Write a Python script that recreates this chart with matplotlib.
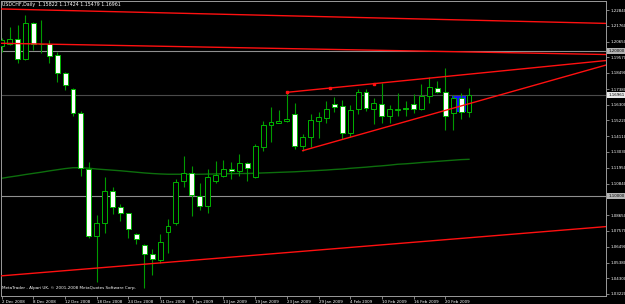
import numpy as np
import matplotlib
matplotlib.use("Agg")
import matplotlib.pyplot as plt
import matplotlib.transforms as mtransforms

# USDCHF daily candles, 2 Dec 2008 .. 25 Feb 2009
opens = [1.2035, 1.2049, 1.2082, 1.1943, 1.2196, 1.2049, 1.2049, 1.1975, 1.1847, 1.1736,
         1.1570, 1.1185, 1.0722, 1.0810, 1.1035, 1.0921, 1.0879, 1.0738, 1.0660, 1.0598,
         1.0557, 1.0748, 1.0810, 1.1100, 1.1156, 1.1001, 1.0930, 1.1104, 1.1137, 1.1187,
         1.1172, 1.1225, 1.1132, 1.1339, 1.1487, 1.1505, 1.1517, 1.1565, 1.1344, 1.1409,
         1.1519, 1.1540, 1.1634, 1.1621, 1.1436, 1.1598, 1.1715, 1.1598, 1.1637, 1.1554,
         1.1595, 1.1605, 1.1632, 1.1598, 1.1690, 1.1747, 1.1717, 1.1570, 1.1674, 1.15822]
highs = [1.2091, 1.2169, 1.2180, 1.2249, 1.2203, 1.2215, 1.2077, 1.1996, 1.1858, 1.1743,
         1.1588, 1.1236, 1.0867, 1.1128, 1.1063, 1.0941, 1.0883, 1.0741, 1.0667, 1.0630,
         1.0736, 1.0838, 1.1114, 1.1275, 1.1206, 1.1089, 1.1183, 1.1241, 1.1248, 1.1236,
         1.1289, 1.1236, 1.1358, 1.1517, 1.1612, 1.1593, 1.1715, 1.1643, 1.1427, 1.1563,
         1.1581, 1.1657, 1.1681, 1.1662, 1.1628, 1.1736, 1.1736, 1.1674, 1.1778, 1.1628,
         1.1708, 1.1657, 1.1704, 1.1773, 1.1819, 1.1793, 1.1881, 1.1697, 1.1708, 1.17424]
lows = [1.1994, 1.2042, 1.1920, 1.1938, 1.2008, 1.1987, 1.1920, 1.1789, 1.1731, 1.1552,
        1.1137, 1.0706, 1.0407, 1.0741, 1.0874, 1.0826, 1.0706, 1.0667, 1.0363, 1.0453,
        1.0534, 1.0607, 1.0798, 1.1063, 1.0861, 1.0902, 1.0883, 1.1091, 1.1132, 1.1114,
        1.1137, 1.1104, 1.1121, 1.1312, 1.1374, 1.1501, 1.1512, 1.1321, 1.1312, 1.1335,
        1.1397, 1.1501, 1.1581, 1.1391, 1.1409, 1.1565, 1.1586, 1.1496, 1.1501, 1.1505,
        1.1552, 1.1552, 1.1574, 1.1593, 1.1643, 1.1708, 1.1455, 1.1455, 1.1529, 1.15479]
closes = [1.2077, 1.2082, 1.1945, 1.2196, 1.2049, 1.2046, 1.1968, 1.1847, 1.1764, 1.1570,
          1.1192, 1.0722, 1.0810, 1.1031, 1.0921, 1.0879, 1.0773, 1.0702, 1.0596, 1.0561,
          1.0683, 1.0791, 1.1098, 1.1160, 1.1006, 1.0930, 1.1128, 1.1144, 1.1187, 1.1172,
          1.1225, 1.1194, 1.1344, 1.1487, 1.1508, 1.1519, 1.1529, 1.1344, 1.1409, 1.1524,
          1.1547, 1.1598, 1.1616, 1.1436, 1.1593, 1.1715, 1.1607, 1.1639, 1.1554, 1.1598,
          1.1600, 1.1603, 1.1600, 1.1692, 1.1750, 1.1717, 1.1554, 1.1674, 1.1581, 1.16961]

# moving average line
ma_values = [1.1121, 1.1130, 1.1138, 1.1147, 1.1155, 1.1163, 1.1172, 1.1180, 1.1188, 1.1194,
             1.1194, 1.1191, 1.1185, 1.1181, 1.1177, 1.1173, 1.1168, 1.1163, 1.1158, 1.1154,
             1.1151, 1.1149, 1.1149, 1.1149, 1.1149, 1.1149, 1.1150, 1.1151, 1.1152, 1.1153,
             1.1154, 1.1154, 1.1156, 1.1158, 1.1160, 1.1162, 1.1164, 1.1166, 1.1169, 1.1172,
             1.1175, 1.1178, 1.1182, 1.1185, 1.1190, 1.1194, 1.1198, 1.1203, 1.1207, 1.1212,
             1.1218, 1.1221, 1.1225, 1.1230, 1.1234, 1.1238, 1.1242, 1.1246, 1.1250, 1.1252]

date_labels = ["2 Dec 2008", "8 Dec 2008", "12 Dec 2008", "18 Dec 2008", "24 Dec 2008",
               "31 Dec 2008", "7 Jan 2009", "13 Jan 2009", "19 Jan 2009", "23 Jan 2009",
               "29 Jan 2009", "4 Feb 2009", "10 Feb 2009", "16 Feb 2009", "20 Feb 2009"]
price_ticks = [1.22840, 1.21760, 1.20650, 1.19570, 1.18490, 1.17380, 1.16300, 1.15220,
               1.14110, 1.13030, 1.11950, 1.10840, 1.08650, 1.07570, 1.06490, 1.05380,
               1.04300, 1.03220]

# drawn objects: (bar, price) anchors
line_a = [(0, 1.2291), (59, 1.2214)]
line_b = [(0, 1.2054), (59, 1.1994)]
line_e = [(0, 1.0447), (59, 1.0710)]
ray_c = [(36, 1.1715), (47, 1.1775)]
ray_d = [(38, 1.1312), (56, 1.1590)]
level_lines = [1.20000, 1.10000]
box_bars = [56.8, 58.6]
box_prices = [1.1577, 1.1697]

n = len(opens)
x = np.arange(n)
o = np.array(opens)
c = np.array(closes)

fig = plt.figure(figsize=(6.25, 3.04), dpi=100, facecolor="black")
ax = fig.add_axes([1 / 625, 8 / 304, 605 / 625, 295 / 304])
ax.set_facecolor("black")

x_lo, x_hi = -0.088, 76.3
y_lo, y_hi = 1.03075, 1.23462

# rectangle object
ax.fill_between(box_bars, box_prices[0], box_prices[1], color="#1010ff", zorder=1, linewidth=0)

# level lines + bid line
for lv in level_lines:
    ax.axhline(lv, color="#8f8f8f", lw=0.8, zorder=1)
ax.axhline(closes[-1], color="#4a4a4a", lw=0.8, zorder=1)

# moving average
ax.plot(x, ma_values, color="#0d6e0d", lw=1.0, zorder=2)

# candles
ax.vlines(x, lows, highs, color="#009a00", lw=0.8, zorder=3)
bull = c >= o
fill = np.where(bull, "black", "white")
height = np.abs(c - o)
ax.bar(x, height, bottom=np.minimum(o, c), width=0.62, color=fill,
       edgecolor="#00b400", linewidth=0.7, zorder=4)

# trend lines
red = "#ff1010"
for ln in (line_a, line_b, line_e):
    ax.axline(ln[0], ln[1], color=red, lw=1.0, zorder=5)
for ray in (ray_c, ray_d):
    (x1, y1), (x2, y2) = ray
    slope = (y2 - y1) / (x2 - x1)
    ax.plot([x1, x_hi + 5], [y1, y1 + slope * (x_hi + 5 - x1)], color=red, lw=1.0, zorder=5)
# selection handles of the upper channel line
(x1, y1), (x2, y2) = ray_c
ax.plot([x1, (x1 + x2) / 2, x2], [y1, (y1 + y2) / 2, y2], "s", color=red, ms=1.8, zorder=6)

ax.set_xlim(x_lo, x_hi)
ax.set_ylim(y_lo, y_hi)

for sp in ax.spines.values():
    sp.set_color("#9a9a9a")
    sp.set_linewidth(0.7)

ax.yaxis.tick_right()
ax.set_yticks(price_ticks)
ax.set_yticklabels(["%.5f" % p for p in price_ticks])
ax.set_xticks(np.arange(0, 4 * len(date_labels), 4))
ax.set_xticklabels(date_labels)
for lbl in ax.get_xticklabels():
    lbl.set_ha("left")
ax.tick_params(colors="#9a9a9a", labelcolor="white", labelsize=2.9, length=2, width=0.6, pad=1)

# price tags on the right axis
trans = mtransforms.blended_transform_factory(ax.transAxes, ax.transData)
for lv, bg in ((level_lines[0], "#b4b4b4"), (level_lines[1], "#b4b4b4"), (closes[-1], "#e8e8e8")):
    ax.text(1.004, lv, "%.5f" % lv, transform=trans, ha="left", va="center", fontsize=2.9,
            color="black", clip_on=False,
            bbox=dict(boxstyle="square,pad=0.25", fc=bg, ec="none"))

ax.text(0.002, 0.995, "USDCHF,Daily  %.5f %.5f %.5f %.5f" % (opens[-1], highs[-1], lows[-1], closes[-1]),
        transform=ax.transAxes, ha="left", va="top", fontsize=3.4, color="white")
ax.text(0.002, 0.02, "MetaTrader - Alpari UK, \u00a9 2001-2008 MetaQuotes Software Corp.",
        transform=ax.transAxes, ha="left", va="bottom", fontsize=3.0, color="white")

fig.savefig("out.png", dpi=100, facecolor="black")
